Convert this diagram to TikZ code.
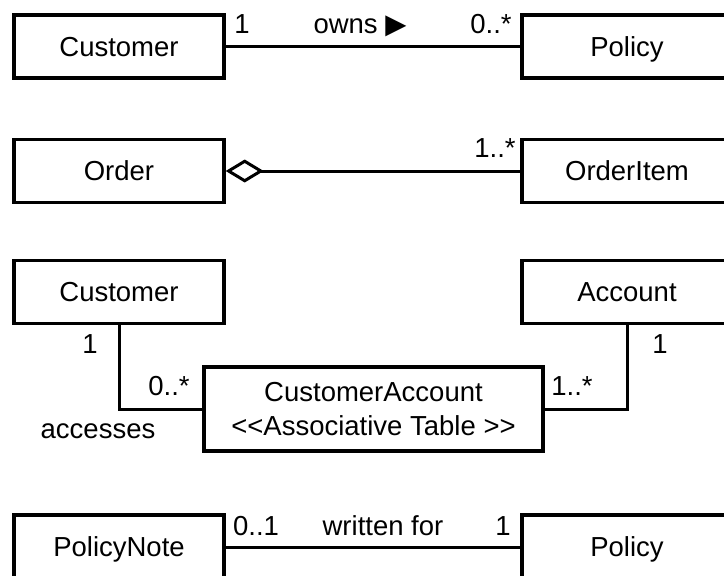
\documentclass[tikz,border=0pt]{standalone}
\usepackage{fontspec}
\setmainfont{Liberation Sans}
\newfontfamily\symfont{DejaVu Sans}
\usetikzlibrary{arrows.meta}
\begin{document}
\begin{tikzpicture}[x=1pt,y=-1pt,
  cls/.style={draw, line width=3.4pt, minimum width=210pt, minimum height=63pt,
    inner sep=0pt, text height=19.7pt, text depth=0pt,
    font=\fontsize{27.5}{34}\selectfont, fill=white},
  lbl/.style={inner sep=0pt, anchor=base, font=\fontsize{27.5}{34}\selectfont},
  conn/.style={line width=3pt}]
\useasboundingbox (0,0) rectangle (724,576);
\clip (0,0) rectangle (724,576);
\fill[white] (0,0) rectangle (724,576);

% row 1
\node[cls] (cust1) at (119,46.5) {Customer};
\node[cls] (pol1) at (627,46.5) {Policy};
\draw[conn] (cust1.east) -- (pol1.west);
\node[lbl] (m1a) at (242,33) {1};
\node[lbl] (own) at (360,33) {owns {\symfont ▶}};
\node[lbl] (m1b) at (491,33) {0..*};

% row 2
\node[cls] (order) at (119,171) {Order};
\node[cls] (item) at (627,171) {OrderItem};
\draw[conn, {Diamond[open,length=38pt,width=23pt]}-] (order.east) -- (item.west);
\node[lbl] (m2) at (495,157.5) {1..*};

% row 3
\node[cls] (cust2) at (119,292) {Customer};
\node[cls] (acc) at (627,292) {Account};
\node[draw, line width=3.4pt, minimum width=339pt, minimum height=84pt, inner sep=0pt,
  align=center, fill=white, font=\fontsize{27.5}{34}\selectfont]
  (ca) at (373.5,409) {CustomerAccount\\<{}<Associative Table >{}>};
\draw[conn] (cust2.south) |- (ca.west);
\draw[conn] (ca.east) -| (acc.south);
\node[lbl] (m3a) at (90,353) {1};
\node[lbl] (m3b) at (169,395) {0..*};
\node[lbl] (m3c) at (572,395) {1..*};
\node[lbl] (m3d) at (660,353) {1};
\node[lbl] (acs) at (98,438) {accesses};

% row 4
\node[cls, minimum height=64pt] (note) at (119,547) {PolicyNote};
\node[cls, minimum height=64pt] (pol2) at (627,547) {Policy};
\draw[conn] (note.east) -- (pol2.west);
\node[lbl] (m4a) at (256,535) {0..1};
\node[lbl] (wf) at (383,535) {written for};
\node[lbl] (m4b) at (503,535) {1};
\end{tikzpicture}
\end{document}
